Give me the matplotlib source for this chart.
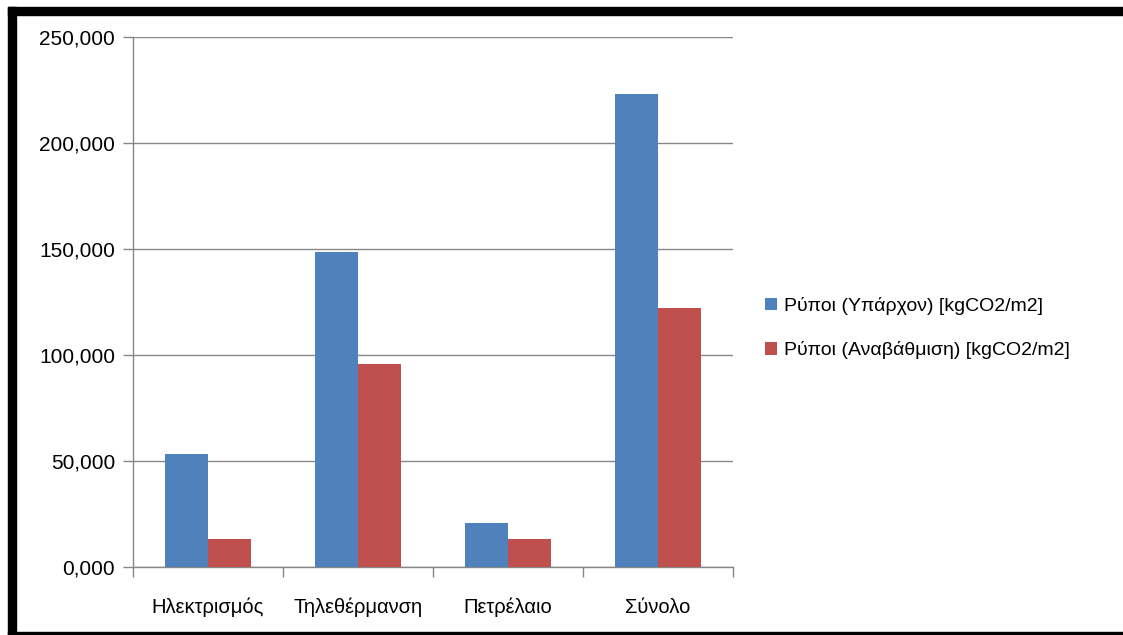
import numpy as np
import matplotlib
matplotlib.use('Agg')
import matplotlib.pyplot as plt
from matplotlib.patches import Rectangle
from matplotlib.ticker import FuncFormatter

plt.rcParams['font.family'] = ['Liberation Sans', 'DejaVu Sans']

# ── Data ───────────────────────────────────────────────────────────
categories = ['Ηλεκτρισμός', 'Τηλεθέρμανση', 'Πετρέλαιο', 'Σύνολο']
existing = [53.3, 148.6, 20.7, 223.1]
upgraded = [13.1, 95.8, 13.1, 122.2]
series_names = ['Ρύποι (Υπάρχον) [kgCO2/m2]', 'Ρύποι (Αναβάθμιση) [kgCO2/m2]']
yticks = [0, 50, 100, 150, 200, 250]

BLUE, RED, GRID = '#4F81BD', '#C0504D', '#878787'

fig = plt.figure(figsize=(11.23, 6.35), dpi=100)
ax = fig.add_axes([0.1184, 0.1071, 0.5343, 0.8346])

x = np.arange(len(categories))
w = 1 / 3.5
ax.bar(x - w / 2, existing, w, color=BLUE, label=series_names[0], zorder=3)
ax.bar(x + w / 2, upgraded, w, color=RED, label=series_names[1], zorder=3)

ax.set_xlim(-0.5, len(categories) - 0.5)
ax.set_ylim(0, 250)
ax.set_yticks(yticks)
ax.yaxis.set_major_formatter(FuncFormatter(lambda v, _: f'{v:.3f}'.replace('.', ',')))
ax.grid(axis='y', color=GRID, linewidth=1.0, zorder=0)

# category labels between boundary ticks
ax.set_xticks(np.arange(len(categories) + 1) - 0.5)
ax.set_xticklabels([])
ax.set_xticks(x, minor=True)
ax.set_xticklabels(categories, minor=True)
ax.tick_params(axis='x', which='minor', length=0, pad=22, labelsize=14.5)
ax.tick_params(axis='x', which='major', length=7, color=GRID, width=1.0)
ax.tick_params(axis='y', length=7, color=GRID, width=1.0, pad=6, labelsize=15)

for side in ('top', 'right'):
    ax.spines[side].set_visible(False)
for side in ('left', 'bottom'):
    ax.spines[side].set_color(GRID)
    ax.spines[side].set_linewidth(1.0)

fig.legend(loc='center left', bbox_to_anchor=(0.666, 0.483), frameon=False,
           fontsize=14, handlelength=0.6, handleheight=0.6,
           handletextpad=0.35, labelspacing=1.35)

# frame around the chart
H, W = 635, 1123
fig.patches.append(Rectangle((8 / W, 1 - 15 / H), 1 - 8 / W, 8 / H,
                             transform=fig.transFigure, color='black'))
fig.patches.append(Rectangle((8 / W, 0), 8 / W, 1 - 7 / H,
                             transform=fig.transFigure, color='black'))
fig.patches.append(Rectangle((8 / W, 0), 1 - 8 / W, 3 / H,
                             transform=fig.transFigure, color='black'))

fig.savefig('out.png', dpi=100, facecolor='white')
